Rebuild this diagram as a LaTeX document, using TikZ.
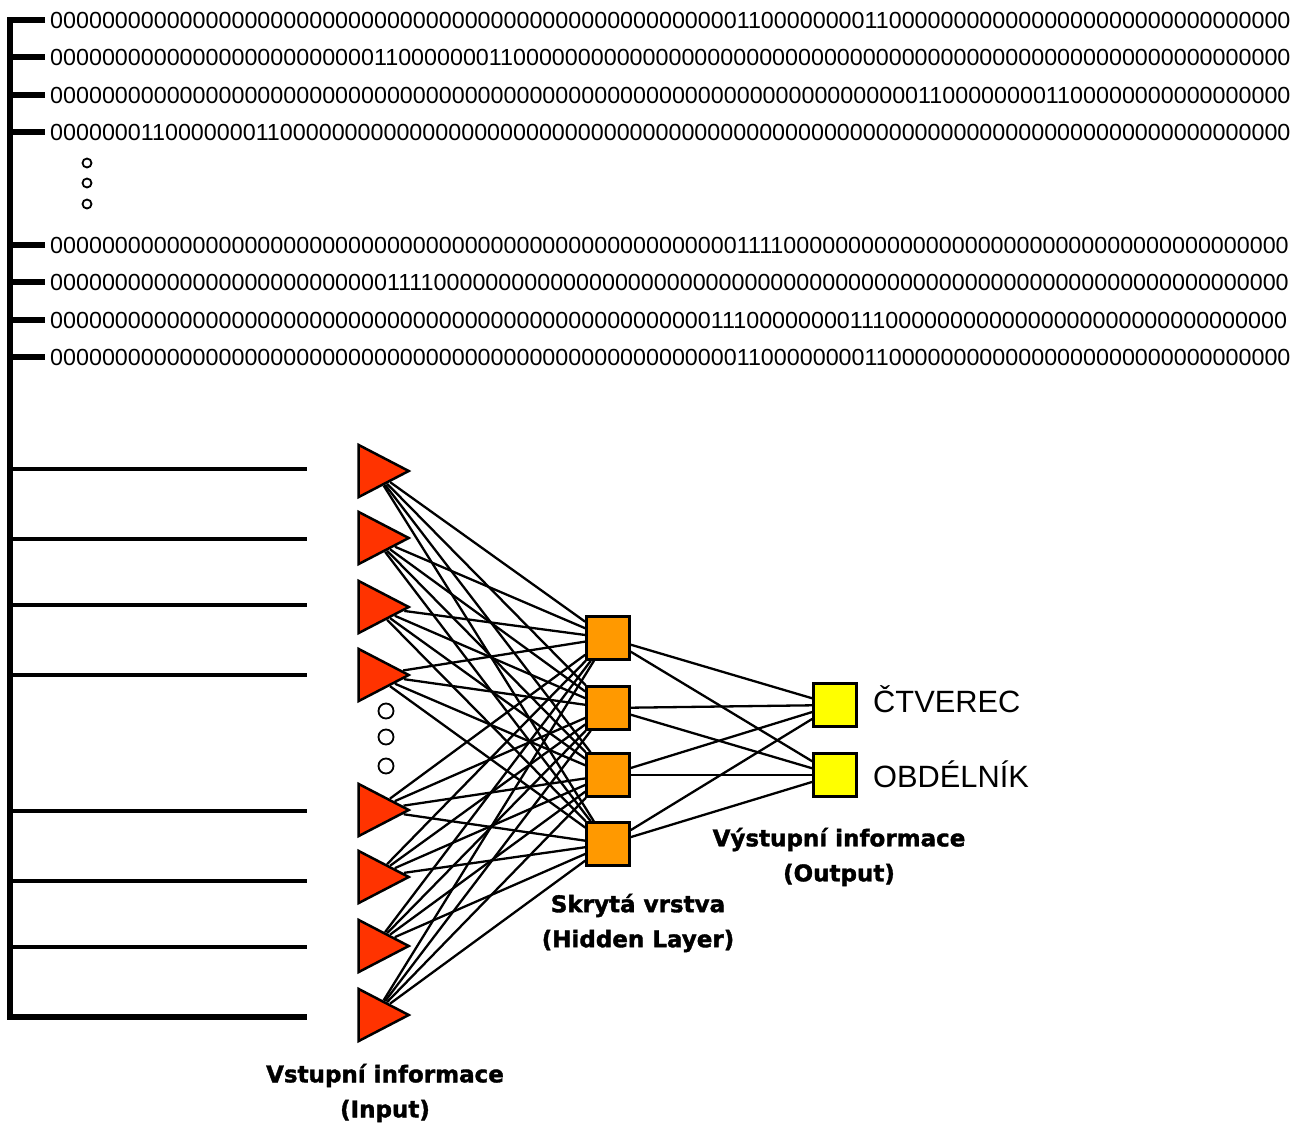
\documentclass[tikz,border=0pt]{standalone}
\usepackage{fontspec}
\setmainfont{Liberation Sans}
\newfontfamily\heavy{DejaVu Sans}[BoldFeatures={FakeBold=1.6}]
\usetikzlibrary{shapes.geometric}
\definecolor{inred}{HTML}{FF3300}
\definecolor{hidorange}{HTML}{FF9900}
\definecolor{outyellow}{HTML}{FFFF00}
\newcommand\zz[1]{\ifnum#1>0 0\expandafter\zz\expandafter{\the\numexpr#1-1\relax}\fi}

\begin{document}
\begin{tikzpicture}[x=1pt,y=-1pt,
	bus/.style={line width=5.5pt},
	feed/.style={line width=4.5pt},
	wire/.style={line width=2.3pt},
	bits/.style={anchor=west,inner sep=5pt,font=\fontsize{23.3}{28}\selectfont},
	neuron/.style={isosceles triangle,isosceles triangle stretches,draw,line width=2.5pt,fill=inred,minimum width=52pt,minimum height=50pt,inner sep=0pt,anchor=apex},
	hidden/.style={rectangle,draw,line width=2.5pt,fill=hidorange,minimum size=43pt,inner sep=0pt},
	output/.style={hidden,fill=outyellow},
	dot/.style={circle,draw,line width=1.8pt,inner sep=0pt},
	cls/.style={anchor=base west,inner sep=0pt,font=\fontsize{30.8}{36}\selectfont},
	caption/.style={align=center,inner sep=0pt,font=\heavy\bfseries\fontsize{23}{35}\selectfont}]
	\useasboundingbox (0,0) rectangle (1299,1124);
	\node[bits] (r1) at (45,20) {\zz{53}11\zz{8}11\zz{31}};
	\node[bits] (r2) at (45,57) {\zz{25}11\zz{7}11\zz{60}};
	\node[bits] (r3) at (45,95) {\zz{67}11\zz{8}11\zz{17}};
	\node[bits] (r4) at (45,132) {\zz{7}11\zz{7}11\zz{78}};
	\node[bits] (r5) at (45,245) {\zz{53}1111\zz{39}};
	\node[bits] (r6) at (45,282) {\zz{26}1111\zz{66}};
	\node[bits] (r7) at (45,320) {\zz{51}111\zz{8}111\zz{31}};
	\node[bits] (r8) at (45,357) {\zz{53}11\zz{8}11\zz{31}};
	\node[dot,minimum size=9pt] (d1) at (87,163) {};
	\node[dot,minimum size=9pt] (d2) at (87,183) {};
	\node[dot,minimum size=9pt] (d3) at (87,204) {};
	\coordinate (bus) at (10,0);
	\foreach \y [count=\k] in {469,539,605,675,811,881,947,1017}
		\coordinate (f\k) at (307,\y);
	\draw[bus] (r1.west) -| (bus|-f8) -- (f8);
	\foreach \r in {2,...,8}
		\draw[bus] (bus|-r\r.west) -- (r\r.west);
	\foreach \k in {1,...,7}
		\draw[feed] (bus|-f\k) -- (f\k);
	\foreach \y [count=\k] in {471,538,607,675,810,877,946,1015}
		\node[neuron] (in\k) at (412,\y) {};
	\node[dot,minimum size=15pt] (d4) at (386,711) {};
	\node[dot,minimum size=15pt] (d5) at (386,737) {};
	\node[dot,minimum size=15pt] (d6) at (386,766) {};
	\node[hidden] (hd1) at (608,638) {};
	\node[hidden] (hd2) at (608,708) {};
	\node[hidden] (hd3) at (608,775) {};
	\node[hidden] (hd4) at (608,844) {};
	\node[output] (ou1) at (835,705) {};
	\node[output] (ou2) at (835,775) {};
	\foreach \i in {1,...,8}
		\foreach \h in {1,...,4}
			\draw[wire] (in\i) -- (hd\h);
	\foreach \h in {1,...,4}
		\foreach \o in {1,2}
			\draw[wire] (hd\h) -- (ou\o);
	\node[cls] (c1) at (873,712) {ČTVEREC};
	\node[cls] (c2) at (873,787) {OBDÉLNÍK};
	\node[caption] (cin) at (385,1093) {Vstupní informace\\(Input)};
	\node[caption] (chd) at (638,923) {Skrytá vrstva\\(Hidden Layer)};
	\node[caption] (cout) at (839,857) {Výstupní informace\\(Output)};
\end{tikzpicture}
\end{document}
